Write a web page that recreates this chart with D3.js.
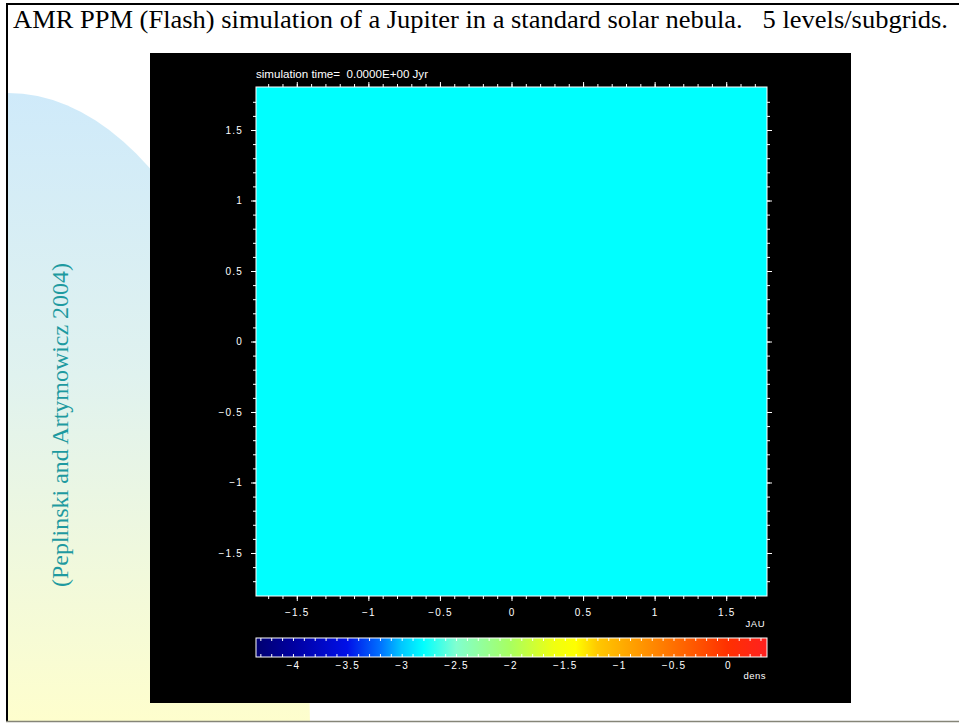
<!DOCTYPE html>
<html>
<head>
<meta charset="utf-8">
<script src="https://cdn.jsdelivr.net/npm/d3@7"></script>
<style>
  body { margin: 0; background: #fff; }
  svg { display: block; }
</style>
</head>
<body>
<svg id="slide"></svg>
<script>
// density field (log10 dens), uniform at t = 0
const fieldCells = [
  { x0: -1.785, x1: 1.785, y0: -1.805, y1: 1.805, dens: -2.8 }
];
const axisTicks = [-1.5, -1, -0.5, 0, 0.5, 1, 1.5];
const cbarTicks = [-4, -3.5, -3, -2.5, -2, -1.5, -1, -0.5, 0];
const cbarValues = [-4.34, -4.0, -3.5, -3.2, -3.0, -2.8, -2.5, -2.0, -1.6, -1.4, -1.2, -1.0, -0.5, 0.0, 0.36];
const cbarColors = ["#000070", "#0000a0", "#0010e8", "#0070ff", "#00c8ff", "#00ffff", "#80ffd0", "#a8ff60",
                    "#f0ff10", "#ffff00", "#ffc800", "#ffb000", "#ff7000", "#ff3000", "#ff2020"];

const width = 959, height = 723;
const svg = d3.select("#slide").attr("width", width).attr("height", height);
const defs = svg.append("defs");

// slide background decoration
const bg = defs.append("linearGradient").attr("id", "bgGrad")
  .attr("gradientUnits", "userSpaceOnUse")
  .attr("x1", 0).attr("y1", 93).attr("x2", 0).attr("y2", 721);
bg.append("stop").attr("offset", 0).attr("stop-color", "#cfeafa");
bg.append("stop").attr("offset", 0.45).attr("stop-color", "#e0f2ef");
bg.append("stop").attr("offset", 1).attr("stop-color", "#fefecd");

defs.append("clipPath").attr("id", "slideClip")
  .append("rect").attr("x", 8).attr("y", 0).attr("width", width).attr("height", 721);

svg.append("ellipse")
  .attr("cx", 8).attr("cy", 734).attr("rx", 302).attr("ry", 641)
  .attr("fill", "url(#bgGrad)")
  .attr("clip-path", "url(#slideClip)");

// frame
svg.append("line").attr("x1", 6).attr("x2", width).attr("y1", 4).attr("y2", 4)
  .attr("stroke", "#000").attr("stroke-width", 2);
svg.append("line").attr("x1", 7).attr("x2", 7).attr("y1", 3).attr("y2", 722)
  .attr("stroke", "#000").attr("stroke-width", 2);
svg.append("line").attr("x1", 6).attr("x2", width).attr("y1", 721.5).attr("y2", 721.5)
  .attr("stroke", "#858578").attr("stroke-width", 1.5);

svg.append("text")
  .attr("x", 13).attr("y", 28)
  .attr("font-family", "Liberation Serif, Times New Roman, serif")
  .attr("font-size", 26)
  .attr("textLength", 935).attr("lengthAdjust", "spacingAndGlyphs")
  .style("white-space", "pre")
  .text("AMR PPM (Flash) simulation of a Jupiter in a standard solar nebula.   5 levels/subgrids.");

svg.append("text")
  .attr("transform", "translate(68,425) rotate(-90)")
  .attr("text-anchor", "middle")
  .attr("font-family", "Liberation Serif, Times New Roman, serif")
  .attr("font-size", 24)
  .attr("textLength", 324).attr("lengthAdjust", "spacingAndGlyphs")
  .attr("fill", "#1e9aa0")
  .text("(Peplinski and Artymowicz 2004)");

// black image panel
svg.append("rect").attr("x", 150).attr("y", 53).attr("width", 701).attr("height", 650).attr("fill", "#000");

const x = d3.scaleLinear().domain([-1.785, 1.785]).range([256, 767]);
const y = d3.scaleLinear().domain([-1.805, 1.805]).range([596, 87]);
const color = d3.scaleLinear().domain(cbarValues).range(cbarColors).clamp(true);
const fmt = d3.format("~g");
const minor = d3.range(-17, 18).map(i => i / 10);
const font = "Liberation Sans, Arial, sans-serif";

svg.append("g").selectAll("rect")
  .data(fieldCells)
  .join("rect")
  .attr("x", d => x(d.x0))
  .attr("y", d => y(d.y1))
  .attr("width", d => x(d.x1) - x(d.x0))
  .attr("height", d => y(d.y0) - y(d.y1))
  .attr("fill", d => color(d.dens));

svg.append("rect")
  .attr("x", x.range()[0]).attr("y", y.range()[1])
  .attr("width", x.range()[1] - x.range()[0]).attr("height", y.range()[0] - y.range()[1])
  .attr("fill", "none").attr("stroke", "#fff").attr("stroke-width", 1);

function styleAxis(g) {
  g.select(".domain").remove();
  g.selectAll("line").attr("stroke", "#fff");
  g.selectAll("text").attr("fill", "#fff").attr("font-family", font)
    .attr("font-size", 10).attr("letter-spacing", 1.2);
}

const axes = [
  [d3.axisLeft(y), `translate(${x.range()[0]},0)`, true],
  [d3.axisRight(y), `translate(${x.range()[1]},0)`, false],
  [d3.axisBottom(x), `translate(0,${y.range()[0]})`, true],
  [d3.axisTop(x), `translate(0,${y.range()[1]})`, false]
];
axes.forEach(([ax, tr, labels]) => {
  svg.append("g").attr("transform", tr)
    .call(ax.tickValues(minor).tickSize(3).tickFormat(""))
    .call(styleAxis);
  svg.append("g").attr("transform", tr)
    .call(ax.tickValues(axisTicks).tickSize(5).tickPadding(labels ? 8 : 3)
      .tickFormat(labels ? fmt : ""))
    .call(styleAxis);
});

svg.append("text")
  .attr("x", 256).attr("y", 78)
  .attr("fill", "#fff").attr("font-family", font).attr("font-size", 10)
  .attr("textLength", 172).attr("lengthAdjust", "spacingAndGlyphs")
  .style("white-space", "pre")
  .text("simulation time=  0.0000E+00 Jyr");

svg.append("text")
  .attr("x", 765).attr("y", 627).attr("text-anchor", "end")
  .attr("fill", "#fff").attr("font-family", font).attr("font-size", 9.5)
  .attr("letter-spacing", 0.5)
  .text("JAU");

// colour bar
const c = d3.scaleLinear().domain([cbarValues[0], cbarValues[cbarValues.length - 1]]).range([256, 767]);
const cb = defs.append("linearGradient").attr("id", "cbarGrad");
cb.selectAll("stop")
  .data(cbarValues)
  .join("stop")
  .attr("offset", d => (c(d) - c.range()[0]) / (c.range()[1] - c.range()[0]))
  .attr("stop-color", d => color(d));

const cbTop = 638, cbH = 19;
svg.append("rect")
  .attr("x", c.range()[0]).attr("y", cbTop)
  .attr("width", c.range()[1] - c.range()[0]).attr("height", cbH)
  .attr("fill", "url(#cbarGrad)")
  .attr("stroke", "#fff").attr("stroke-width", 1);

const cbMinor = d3.range(-43, 4).map(i => i / 10);
svg.append("g").attr("transform", `translate(0,${cbTop})`)
  .call(d3.axisBottom(c).tickValues(cbMinor).tickSize(3).tickFormat(""))
  .call(styleAxis);
svg.append("g").attr("transform", `translate(0,${cbTop + cbH})`)
  .call(d3.axisTop(c).tickValues(cbMinor).tickSize(3).tickFormat(""))
  .call(styleAxis);
svg.append("g").attr("transform", `translate(0,${cbTop + cbH})`)
  .call(d3.axisBottom(c).tickValues(cbarTicks).tickSize(0).tickPadding(5).tickFormat(fmt))
  .call(styleAxis);

svg.append("text")
  .attr("x", 766).attr("y", 679).attr("text-anchor", "end")
  .attr("fill", "#fff").attr("font-family", font).attr("font-size", 9.5)
  .attr("letter-spacing", 0.5)
  .text("dens");
</script>
</body>
</html>
